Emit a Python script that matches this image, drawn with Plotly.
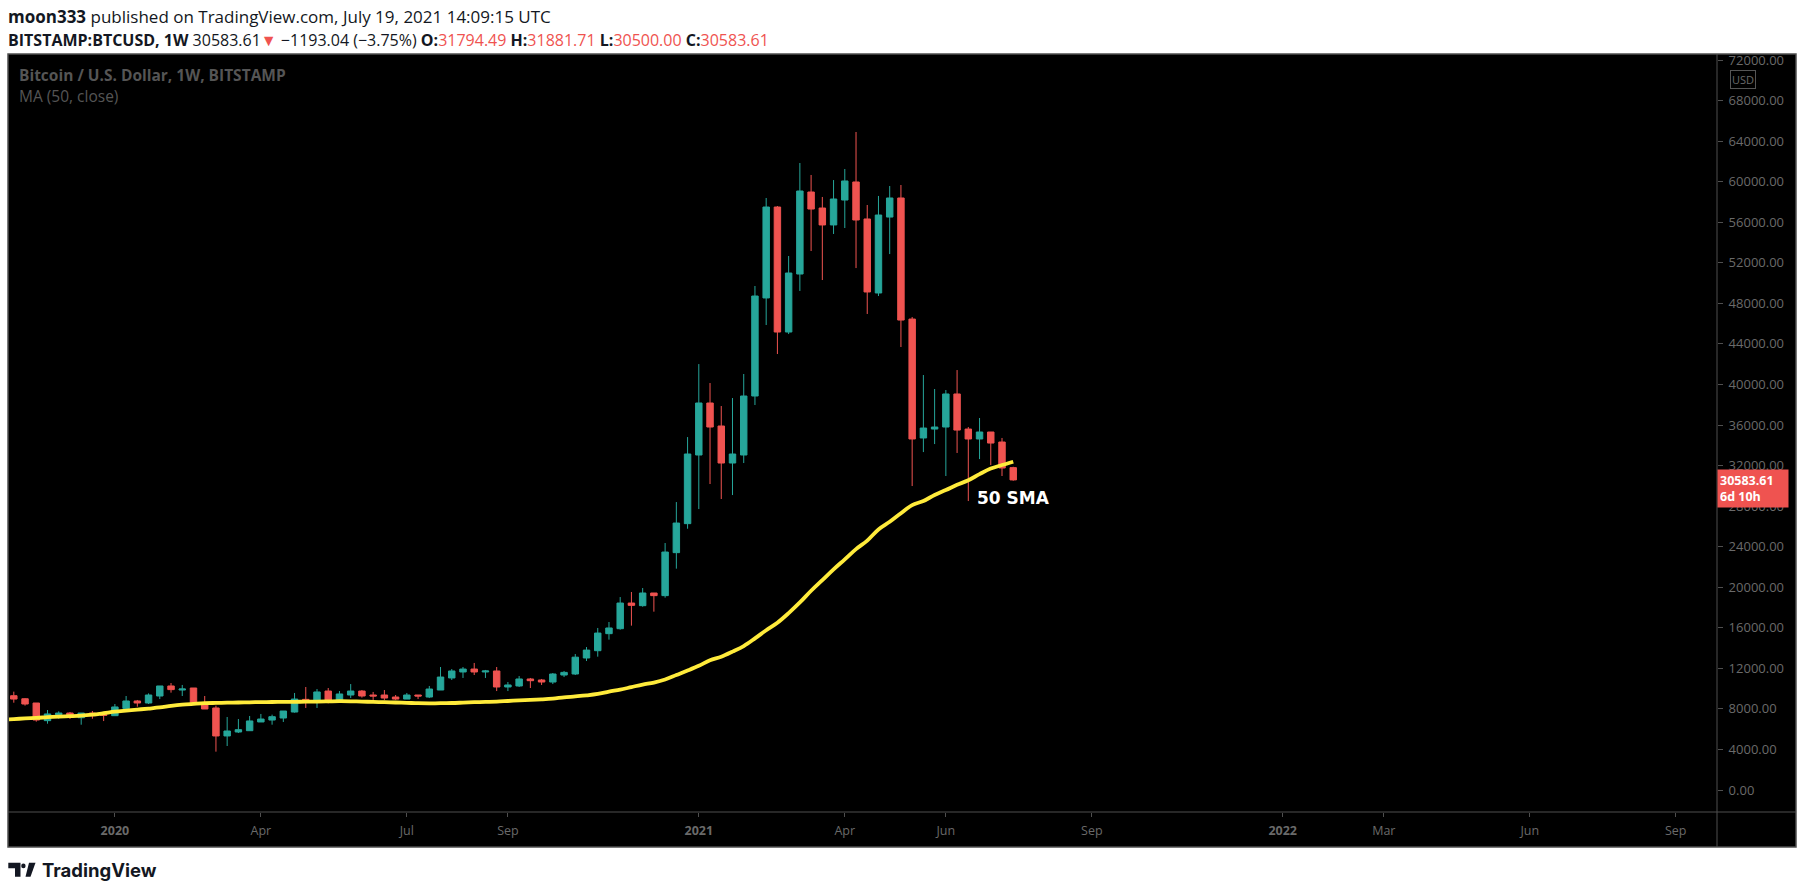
import pandas as pd
import plotly.graph_objects as go

# weekly BITSTAMP:BTCUSD candles
weeks = pd.date_range('2019-11-04', '2021-07-19', freq='7D')
open_ = [9300, 9000, 8580, 6840, 7430, 7590, 7130, 7590, 7460, 7330,
         8050, 8780, 8580, 9270, 10260, 9860, 10060, 8550, 8090, 5330,
         5720, 5850, 6710, 6900, 7100, 7690, 8940, 8680, 9760, 8680,
         9370, 9760, 9370, 9370, 9170, 8970, 9370, 9170, 9860, 11050,
         11640, 11930, 11640, 11740, 10160, 10260, 10950, 10850, 10650, 11340,
         11440, 13020, 13740, 15420, 15910, 18440, 18180, 19430, 19170, 23410,
         26270, 33040, 38170, 35900, 32250, 33040, 38860, 48530, 57500, 45170,
         50890, 58980, 57400, 55730, 58190, 59970, 56320, 49020, 56510, 58390,
         46450, 34720, 35600, 35800, 39060, 35600, 34620, 35310, 34320, 31794.49]
high = [9700, 9070, 8580, 7890, 7760, 7690, 7590, 7790, 7690, 8480,
        9270, 8880, 9530, 10260, 10550, 10360, 10060, 9270, 8320, 7200,
        7000, 7300, 7500, 7430, 7790, 9570, 10160, 9960, 10060, 9760,
        10450, 9860, 9670, 9860, 9370, 9570, 9370, 10260, 12130, 11930,
        12130, 12530, 11840, 12130, 10650, 11240, 11050, 10950, 11540, 11740,
        13410, 14100, 15980, 16570, 19030, 19530, 19920, 19430, 24360, 28400,
        34810, 42010, 40140, 37870, 38660, 41030, 49710, 58390, 57600, 52670,
        61840, 60660, 58490, 60160, 61250, 64900, 57700, 58590, 59570, 59670,
        46650, 40930, 39550, 39450, 41420, 35800, 36690, 35310, 34720, 31881.71]
low = [8610, 8320, 6740, 6540, 7030, 7000, 6440, 7030, 6800, 7330,
       7960, 8220, 8480, 8970, 9600, 9270, 8380, 7990, 3780, 4340,
       5620, 5850, 6710, 6440, 6710, 7630, 8090, 8090, 8550, 8580,
       9070, 9110, 8880, 8880, 8880, 8970, 8970, 9070, 9860, 10850,
       11050, 11340, 11050, 9760, 9760, 10160, 10060, 10360, 10450, 11140,
       11340, 12720, 13150, 14830, 15810, 16210, 18080, 17590, 18970, 21830,
       25770, 27710, 30180, 28700, 29090, 32250, 37970, 45860, 43000, 44970,
       49220, 53160, 50300, 54840, 55430, 51480, 46950, 48720, 52860, 43690,
       29980, 33330, 34120, 30970, 33240, 28500, 32640, 32050, 30970, 30500.00]
close = [8970, 8480, 6900, 7500, 7590, 7170, 7590, 7330, 7360, 8190,
         8780, 8580, 9370, 10260, 9900, 9960, 8480, 7990, 5330, 5820,
         5950, 6810, 7000, 7230, 7790, 8970, 8680, 9670, 8680, 9470,
         9760, 9270, 9270, 9070, 8970, 9370, 9270, 9960, 11140, 11740,
         11930, 11640, 11740, 10160, 10360, 10950, 10780, 10650, 11440, 11600,
         13100, 13800, 15480, 15980, 18440, 18210, 19430, 19170, 23470, 26330,
         33140, 38170, 35800, 32250, 33140, 38860, 48720, 57500, 45170, 50990,
         59080, 57300, 55730, 58290, 60070, 56220, 49120, 56710, 58390, 46350,
         34620, 35700, 35800, 39060, 35500, 34620, 35310, 34220, 31760, 30583.61]

# MA (50, close)
ma_weeks = pd.date_range('2019-10-28', '2021-07-19', freq='7D')
ma50 = [6940, 7000, 7060, 7110, 7180, 7240, 7280, 7330, 7430, 7570,
        7720, 7830, 7930, 8030, 8140, 8290, 8410, 8490, 8560, 8590,
        8610, 8630, 8650, 8670, 8680, 8690, 8700, 8710, 8720, 8740,
        8760, 8750, 8720, 8690, 8660, 8630, 8600, 8560, 8550, 8560,
        8580, 8620, 8660, 8690, 8720, 8780, 8840, 8880, 8940, 9020,
        9140, 9230, 9330, 9470, 9700, 9900, 10150, 10400, 10600, 10900,
        11340, 11780, 12250, 12800, 13150, 13650, 14200, 14950, 15760, 16500,
        17450, 18500, 19650, 20700, 21760, 22750, 23760, 24600, 25700, 26450,
        27300, 28100, 28500, 29100, 29585, 30100, 30550, 31150, 31700, 32050,
        32380]

tick_dates = ['2020-01-06', '2020-04-06', '2020-07-06', '2020-09-07', '2021-01-04', '2021-04-05',
              '2021-06-07', '2021-09-06', '2022-01-03', '2022-03-07', '2022-06-06', '2022-09-05']
tick_text = ['<b>2020</b>', 'Apr', 'Jul', 'Sep', '<b>2021</b>', 'Apr',
             'Jun', 'Sep', '<b>2022</b>', 'Mar', 'Jun', 'Sep']
price_ticks = list(range(0, 72001, 4000))

GREEN = '#26a69a'
RED = '#ef5350'
AXIS = '#4f4f4f'
LABEL = '#6a6a6a'
FONT = 'Open Sans'

# pixel -> paper helpers (plot area is x 9..1717, y 54..812)
L, R, T, B = 9, 1717, 54, 812
def px(x):
    return (x - L) / (R - L)
def py(y):
    return (B - y) / (B - T)

fig = go.Figure()
fig.add_trace(go.Candlestick(
    x=weeks, open=open_, high=high, low=low, close=close,
    increasing=dict(line=dict(color=GREEN, width=1), fillcolor=GREEN),
    decreasing=dict(line=dict(color=RED, width=1), fillcolor=RED),
    whiskerwidth=0, showlegend=False, name='BTCUSD'))
fig.add_trace(go.Scatter(
    x=ma_weeks, y=ma50, mode='lines', line=dict(color='#ffeb3b', width=3.8, shape='spline'),
    showlegend=False, name='MA 50'))

fig.update_layout(
    width=1805, height=894,
    margin=dict(l=L, r=1805 - R, t=T, b=894 - B),
    paper_bgcolor='white', plot_bgcolor='black',
    boxgap=0.18,
    font=dict(family=FONT, color=LABEL, size=12),
    xaxis=dict(type='date', range=['2019-11-01', '2022-09-30 17:00'],
               tickvals=tick_dates, ticktext=tick_text,
               ticks='outside', ticklen=4, tickcolor=AXIS, ticklabelstandoff=3,
               tickfont=dict(family=FONT, size=12.5, color=LABEL),
               showgrid=False, zeroline=False, showline=False,
               rangeslider=dict(visible=False)),
    yaxis=dict(side='right', range=[-2170, 72592], tickvals=price_ticks,
               tickformat='.2f', ticks='outside', ticklen=5, tickcolor=AXIS, ticklabelstandoff=3,
               tickfont=dict(family=FONT, size=13, color=LABEL),
               showgrid=False, zeroline=False, showline=False),
)

# black chart frame with price/time axis strips
fig.add_shape(type='rect', xref='paper', yref='paper', x0=px(8), x1=px(1796), y0=py(847), y1=py(54),
              fillcolor='black', line=dict(width=0), layer='below')
fig.add_shape(type='rect', xref='paper', yref='paper', x0=px(8), x1=px(1796), y0=py(847), y1=py(54),
              fillcolor='rgba(0,0,0,0)', line=dict(color=AXIS, width=1.5), layer='above')
fig.add_shape(type='line', xref='paper', yref='paper', x0=1, x1=1, y0=py(847), y1=py(54),
              line=dict(color=AXIS, width=1))
fig.add_shape(type='line', xref='paper', yref='paper', x0=px(8), x1=px(1796), y0=0, y1=0,
              line=dict(color=AXIS, width=1))

# header above the chart
fig.add_annotation(text='<b>moon333</b> published on TradingView.com, July 19, 2021 14:09:15 UTC',
                   xref='paper', yref='paper', x=px(6), y=py(16), xanchor='left', yanchor='middle',
                   showarrow=False, font=dict(family=FONT, size=17, color='#131722'))
fig.add_annotation(text=("<b>BITSTAMP:BTCUSD, 1W</b> 30583.61<span style='color:%s'>▼</span> −1193.04 (−3.75%%) "
                         "<b>O:</b><span style='color:%s'>31794.49</span> <b>H:</b><span style='color:%s'>31881.71</span> "
                         "<b>L:</b><span style='color:%s'>30500.00</span> <b>C:</b><span style='color:%s'>30583.61</span>")
                   % (RED, RED, RED, RED, RED),
                   xref='paper', yref='paper', x=px(6), y=py(40), xanchor='left', yanchor='middle',
                   showarrow=False, font=dict(family=FONT, size=16, color='#131722'))

# legend texts inside the chart
fig.add_annotation(text='<b>Bitcoin / U.S. Dollar, 1W, BITSTAMP</b>', xref='paper', yref='paper',
                   x=px(17), y=py(75), xanchor='left', yanchor='middle', showarrow=False,
                   font=dict(family=FONT, size=15.5, color='#555555'))
fig.add_annotation(text='MA (50, close)', xref='paper', yref='paper',
                   x=px(17), y=py(96), xanchor='left', yanchor='middle', showarrow=False,
                   font=dict(family=FONT, size=15.5, color='#555555'))

# currency badge and last price label on the price scale
fig.add_annotation(text='USD', xref='paper', yref='paper', x=px(1756), y=py(70), showarrow=False,
                   font=dict(family=FONT, size=11, color=LABEL), bordercolor='#555555',
                   borderwidth=1, borderpad=1, bgcolor='black')
fig.add_annotation(text='<b>%.2f</b><br><b>6d 10h</b>' % close[-1], xref='paper', yref='y',
                   x=1, y=close[-1], xanchor='left', yanchor='top', yshift=11, align='left',
                   showarrow=False, bgcolor=RED, width=66, borderpad=2,
                   font=dict(family=FONT, size=12.5, color='white'))

fig.add_annotation(text='<b>50 SMA</b>', x=weeks[-1], y=28800, showarrow=False,
                   font=dict(family='DejaVu Sans', size=17, color='white'))

# TradingView logo at the bottom
fig.add_shape(type='path', xref='paper', yref='paper',
              path='M %f %f L %f %f L %f %f L %f %f L %f %f L %f %f Z' % (
                  px(8.3), py(862.7), px(20.5), py(862.7), px(20.5), py(876.7),
                  px(15), py(876.7), px(15), py(868.3), px(8.3), py(868.3)),
              fillcolor='#131722', line=dict(width=0))
fig.add_shape(type='circle', xref='paper', yref='paper', x0=px(21.2), x1=px(25.6), y0=py(868.3), y1=py(863.5),
              fillcolor='#131722', line=dict(width=0))
fig.add_shape(type='path', xref='paper', yref='paper',
              path='M %f %f L %f %f L %f %f L %f %f Z' % (
                  px(29), py(862.7), px(35.5), py(862.7), px(30.5), py(876.7), px(25.5), py(876.7)),
              fillcolor='#131722', line=dict(width=0))
fig.add_annotation(text='<b>TradingView</b>', xref='paper', yref='paper', x=px(40), y=py(870),
                   xanchor='left', yanchor='middle', showarrow=False,
                   font=dict(family='Inter', size=18.5, color='#131722'))

# the page's default 8px body margin would shift the whole figure
fig.write_html('out.html', config={'displayModeBar': False},
               post_script="document.body.style.margin='0';")
